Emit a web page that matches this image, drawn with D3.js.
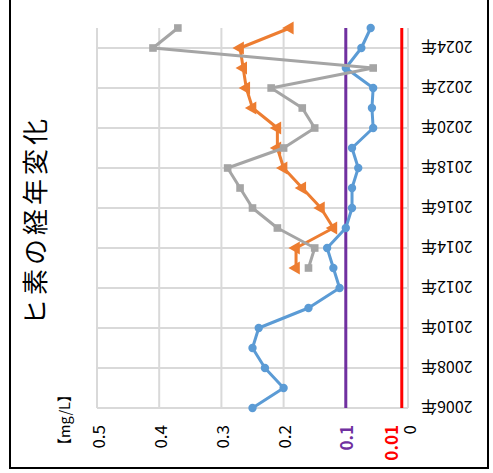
<!DOCTYPE html>
<html>
<head>
<meta charset="utf-8">
<script src="https://cdn.jsdelivr.net/npm/d3@7"></script>
<style>
  html, body { margin: 0; padding: 0; background: #fff; }
  svg { display: block; }
</style>
</head>
<body>
<svg id="chart" width="493" height="473"></svg>
<script>
// ---- data ----
const years = [2006,2007,2008,2009,2010,2011,2012,2013,2014,2015,2016,2017,2018,2019,2020,2021,2022,2023,2024,2025];
const blueValues = [0.25,0.20,0.23,0.25,0.24,0.16,0.11,0.12,0.13,0.10,0.09,0.09,0.08,0.09,0.056,0.058,0.056,0.10,0.075,0.06];
const laterYears = [2013,2014,2015,2016,2017,2018,2019,2020,2021,2022,2023,2024,2025];
const grayValues = [0.16,0.15,0.21,0.25,0.27,0.29,0.20,0.15,0.17,0.22,0.056,0.41,0.37];
const orangeValues = [0.18,0.18,0.12,0.14,0.17,0.20,0.21,0.21,0.25,0.26,0.265,0.27,0.19];
const yearTicks = [2006,2008,2010,2012,2014,2016,2018,2020,2022,2024];
const valueTicks = [0.5,0.4,0.3,0.2];
const zeroTick = 0;
const purpleLevel = 0.1;
const redLevel = 0.01;
const title = "ヒ素の経年変化";
const unitLabel = "【mg/L】";

const svg = d3.select("#chart");
const FONT = "'Noto Sans CJK JP', 'Noto Sans', sans-serif";

// frame
svg.append("rect").attr("x", 10).attr("y", -3).attr("width", 478).attr("height", 471)
  .attr("fill", "#fff").attr("stroke", "#000").attr("stroke-width", 2);

// scales (chart is rotated: values run right->left, years bottom->top)
const x = d3.scaleLinear().domain([0, 0.5]).range([408, 97]);
const y = d3.scaleLinear().domain([2006, 2025]).range([408, 28]);

const grid = "#d9d9d9";
// vertical gridlines (value grid)
svg.append("g").selectAll("line").data([0.5,0.4,0.3,0.2,0.1,0]).join("line")
  .attr("x1", d => x(d)).attr("x2", d => x(d))
  .attr("y1", y(2025)).attr("y2", y(2006))
  .attr("stroke", grid).attr("stroke-width", 2);
// horizontal gridlines (year grid)
svg.append("g").selectAll("line").data(yearTicks).join("line")
  .attr("x1", x(0.5)).attr("x2", x(0))
  .attr("y1", d => y(d)).attr("y2", d => y(d))
  .attr("stroke", grid).attr("stroke-width", 2);

// reference lines
svg.append("line").attr("x1", x(purpleLevel)).attr("x2", x(purpleLevel))
  .attr("y1", y(2025)).attr("y2", y(2006)).attr("stroke", "#7030a0").attr("stroke-width", 3);
svg.append("line").attr("x1", x(redLevel)).attr("x2", x(redLevel))
  .attr("y1", y(2025)).attr("y2", y(2006)).attr("stroke", "#ff0000").attr("stroke-width", 3);

// series
function drawSeries(yrs, vals, color, symbol, size, rot) {
  const pts = yrs.map((yr, i) => [x(vals[i]), y(yr)]);
  svg.append("path").attr("d", d3.line()(pts))
    .attr("fill", "none").attr("stroke", color).attr("stroke-width", 3)
    .attr("stroke-linejoin", "round");
  svg.append("g").selectAll("path").data(pts).join("path")
    .attr("d", d3.symbol().type(symbol).size(size)())
    .attr("transform", d => `translate(${d[0]},${d[1]}) rotate(${rot})`)
    .attr("fill", color);
}
drawSeries(years, blueValues, "#5b9bd5", d3.symbolCircle, 55, 0);
drawSeries(laterYears, orangeValues, "#ed7d31", d3.symbolTriangle, 75, -90);
drawSeries(laterYears, grayValues, "#a5a5a5", d3.symbolSquare, 58, 0);

// year labels (upside down)
svg.append("g").selectAll("text").data(yearTicks).join("text")
  .attr("transform", d => `translate(421,${y(d)}) rotate(180)`)
  .attr("text-anchor", "end").attr("dominant-baseline", "central")
  .attr("font-family", FONT).attr("font-size", 16).attr("fill", "#000")
  .text(d => d + "年");

// value labels (rotated -90)
function vLabel(val, txt, color, weight) {
  svg.append("text")
    .attr("transform", `translate(${x(val)},425) rotate(-90)`)
    .attr("text-anchor", "end").attr("dominant-baseline", "central")
    .attr("font-family", FONT).attr("font-size", 17)
    .attr("font-weight", weight).attr("fill", color).text(txt);
}
valueTicks.forEach(v => vLabel(v, d3.format(".1f")(v), "#000", "normal"));
vLabel(zeroTick, String(zeroTick), "#000", "normal");
vLabel(purpleLevel, "0.1", "#7030a0", "bold");
svg.append("text")
  .attr("transform", `translate(390,425) rotate(-90)`)
  .attr("text-anchor", "end").attr("dominant-baseline", "central")
  .attr("font-family", FONT).attr("font-size", 17)
  .attr("font-weight", "bold").attr("fill", "#ff0000").text(String(redLevel));

// unit label
svg.append("text").attr("transform", "translate(63,420) rotate(-90)")
  .attr("text-anchor", "middle").attr("dominant-baseline", "central")
  .attr("font-family", FONT).attr("font-size", 14.5).attr("fill", "#000")
  .text(unitLabel);

// title
svg.append("text").attr("transform", "translate(33,220) rotate(-90)")
  .attr("text-anchor", "middle").attr("dominant-baseline", "central")
  .attr("font-family", FONT).attr("font-size", 26).attr("letter-spacing", 4)
  .attr("fill", "#000").text(title);
</script>
</body>
</html>
